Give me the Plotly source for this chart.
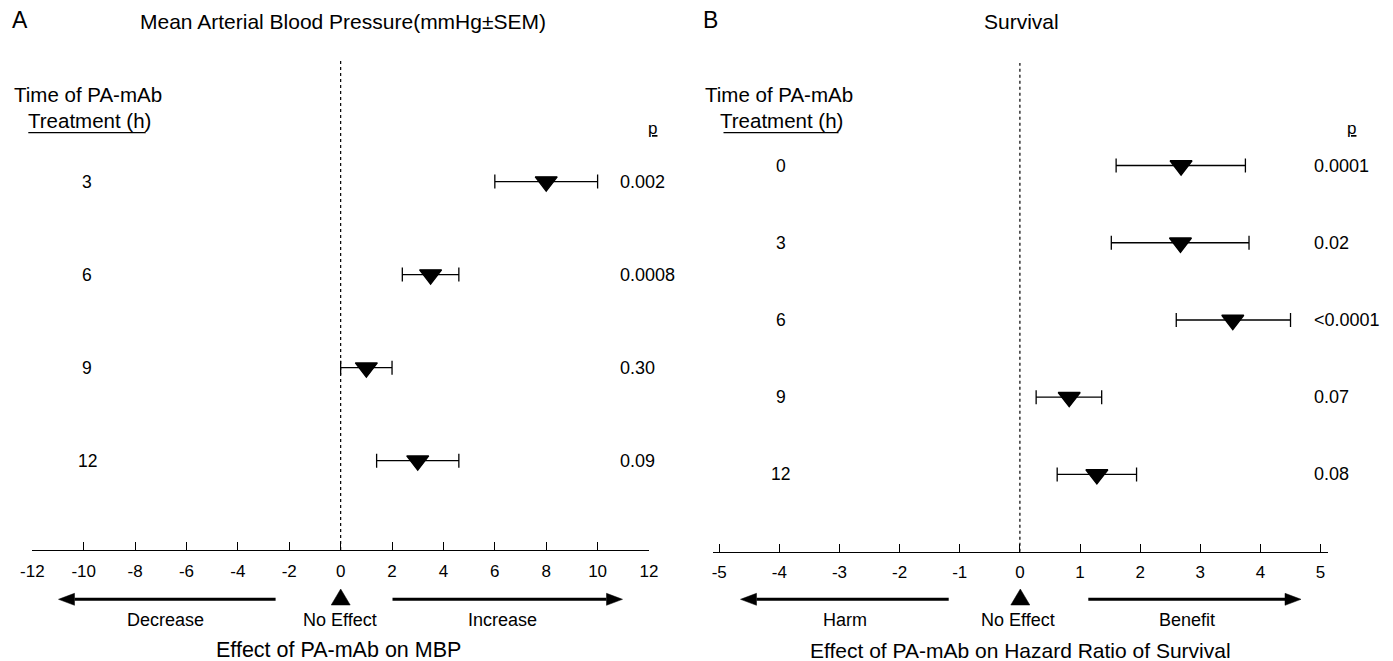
import plotly.graph_objects as go

# ---------------- data ----------------
mbp_times = ["3", "6", "9", "12"]
mbp_mean = [8.0, 3.5, 1.0, 3.0]
mbp_low = [6.0, 2.4, 0.0, 1.4]
mbp_high = [10.0, 4.6, 2.0, 4.6]
mbp_p = ["0.002", "0.0008", "0.30", "0.09"]
mbp_ticks = [-12, -10, -8, -6, -4, -2, 0, 2, 4, 6, 8, 10, 12]

surv_times = ["0", "3", "6", "9", "12"]
surv_mean = [2.68, 2.67, 3.54, 0.82, 1.28]
surv_low = [1.60, 1.52, 2.60, 0.27, 0.62]
surv_high = [3.75, 3.81, 4.50, 1.36, 1.94]
surv_p = ["0.0001", "0.02", "<0.0001", "0.07", "0.08"]
surv_ticks = [-5, -4, -3, -2, -1, 0, 1, 2, 3, 4, 5]

W, H = 1393, 661
OFF = 8  # page body margin
FONT = "Liberation Sans"


def px(x):
    return (x - OFF) / W


def py(y):
    return 1 - (y - OFF) / H


fig = go.Figure()


def add_panel(mean, low, high, xa, ya):
    idx = list(range(len(mean)))
    fig.add_trace(go.Scatter(
        x=mean, y=idx, mode="markers", xaxis=xa, yaxis=ya,
        marker=dict(symbol="triangle-down", size=19, color="black",
                    line=dict(color="black", width=1.4)),
        error_x=dict(type="data", symmetric=False,
                     array=[h - m for h, m in zip(high, mean)],
                     arrayminus=[m - l for m, l in zip(mean, low)],
                     color="black", thickness=1.3, width=7),
        showlegend=False, hoverinfo="skip"))


add_panel(mbp_mean, mbp_low, mbp_high, "x", "y")
add_panel(surv_mean, surv_low, surv_high, "x2", "y2")

axis_common = dict(showgrid=False, zeroline=False, showline=True, linecolor="black",
                   linewidth=1.3, ticks="inside", ticklen=8, tickwidth=1.3,
                   tickcolor="black", tickfont=dict(family=FONT, size=17, color="black"),
                   ticklabelstandoff=5, fixedrange=True, automargin=False)

fig.update_layout(
    width=W, height=H, autosize=False, margin=dict(l=0, r=0, t=0, b=0, pad=0),
    paper_bgcolor="white", plot_bgcolor="white",
    font=dict(family=FONT, color="black"),
    xaxis=dict(domain=[px(32.3), px(649)], range=[-12, 12], tickvals=mbp_ticks,
               ticktext=[str(v) for v in mbp_ticks], anchor="y", **axis_common),
    yaxis=dict(domain=[py(550), py(61)], range=[3.96, -1.296], visible=False,
               anchor="x", fixedrange=True),
    xaxis2=dict(domain=[px(713.2), px(1327.8)], range=[-5.1, 5.12], tickvals=surv_ticks,
                ticktext=[str(v) for v in surv_ticks], anchor="y2", **axis_common),
    yaxis2=dict(domain=[py(551.7), py(63)], range=[5.0, -1.327], visible=False,
                anchor="x2", fixedrange=True),
)

ann = []


def text(x, y, s, size=18, xanchor="center", yref="paper"):
    ann.append(dict(x=px(x), xref="paper", y=(py(y) if yref == "paper" else y),
                    yref=yref, text=s, showarrow=False, xanchor=xanchor,
                    yanchor="middle", font=dict(family=FONT, size=size, color="black")))


# Panel A texts
text(20, 20, "A", size=23)
text(342.7, 22, "Mean Arterial Blood Pressure(mmHg±SEM)", size=21)
text(88, 95, "Time of PA-mAb", size=20.5)
text(89, 120, "Treatment (h)", size=20.5)
text(652, 128, "<u>p</u>", size=17)
for i, (t, p) in enumerate(zip(mbp_times, mbp_p)):
    text(87, i, t, size=17.5, yref="y")
    text(617.7, i, p, xanchor="left", yref="y")
text(165, 620, "Decrease")
text(339.7, 620, "No Effect")
text(502.5, 620, "Increase")
text(338, 650, "Effect of PA-mAb on MBP", size=21.5)

# Panel B texts
text(711, 20, "B", size=23)
text(1021, 22, "Survival", size=21)
text(779, 95, "Time of PA-mAb", size=20.5)
text(781.4, 120, "Treatment (h)", size=20.5)
text(1351, 128, "<u>p</u>", size=17)
for i, (t, p) in enumerate(zip(surv_times, surv_p)):
    text(780.5, i, t, size=17.5, yref="y2")
    text(1312, i, p, xanchor="left", yref="y2")
text(845.4, 620, "Harm")
text(1017.8, 620, "No Effect")
text(1186.7, 620, "Benefit")
text(1020.3, 650, "Effect of PA-mAb on Hazard Ratio of Survival", size=21)

fig.update_layout(annotations=ann)


# direction arrows (pixel helpers converted to paper coordinates)
def harrow(tail, tip, y, head=16, half=6, width=3):
    d = 1 if tip > tail else -1
    base = tip - d * head
    fig.add_shape(type="line", xref="paper", yref="paper", x0=px(tail), x1=px(base),
                  y0=py(y), y1=py(y), line=dict(color="black", width=width))
    fig.add_shape(type="path", xref="paper", yref="paper",
                  path=f"M{px(tip)},{py(y)} L{px(base)},{py(y - half)} L{px(base)},{py(y + half)} Z",
                  fillcolor="black", line=dict(color="black", width=0.5))


def up_triangle(xc, top, bottom, half):
    fig.add_shape(type="path", xref="paper", yref="paper",
                  path=f"M{px(xc)},{py(top)} L{px(xc + half)},{py(bottom)} L{px(xc - half)},{py(bottom)} Z",
                  fillcolor="black", line=dict(color="black", width=0.5))


harrow(275.6, 58.5, 599.3)
harrow(392.5, 622.5, 599.3)
harrow(948.7, 740.5, 599.3)
harrow(1088.3, 1301, 599.3)
up_triangle(340.7, 589, 605, 9.5)
up_triangle(1020.3, 589, 605, 9.5)

# dotted zero lines and heading underlines
fig.add_shape(type="line", xref="x", yref="y domain", x0=0, x1=0, y0=0, y1=1,
              line=dict(color="black", width=1.2, dash="dot"))
fig.add_shape(type="line", xref="x2", yref="y2 domain", x0=0, x1=0, y0=0, y1=1,
              line=dict(color="black", width=1.2, dash="dot"))
fig.add_shape(type="line", xref="paper", yref="paper", x0=px(28.3), x1=px(145.7),
              y0=py(132.7), y1=py(132.7), line=dict(color="black", width=1.2))
fig.add_shape(type="line", xref="paper", yref="paper", x0=px(723.5), x1=px(838.5),
              y0=py(132.7), y1=py(132.7), line=dict(color="black", width=1.2))

fig.write_html("out.html")
